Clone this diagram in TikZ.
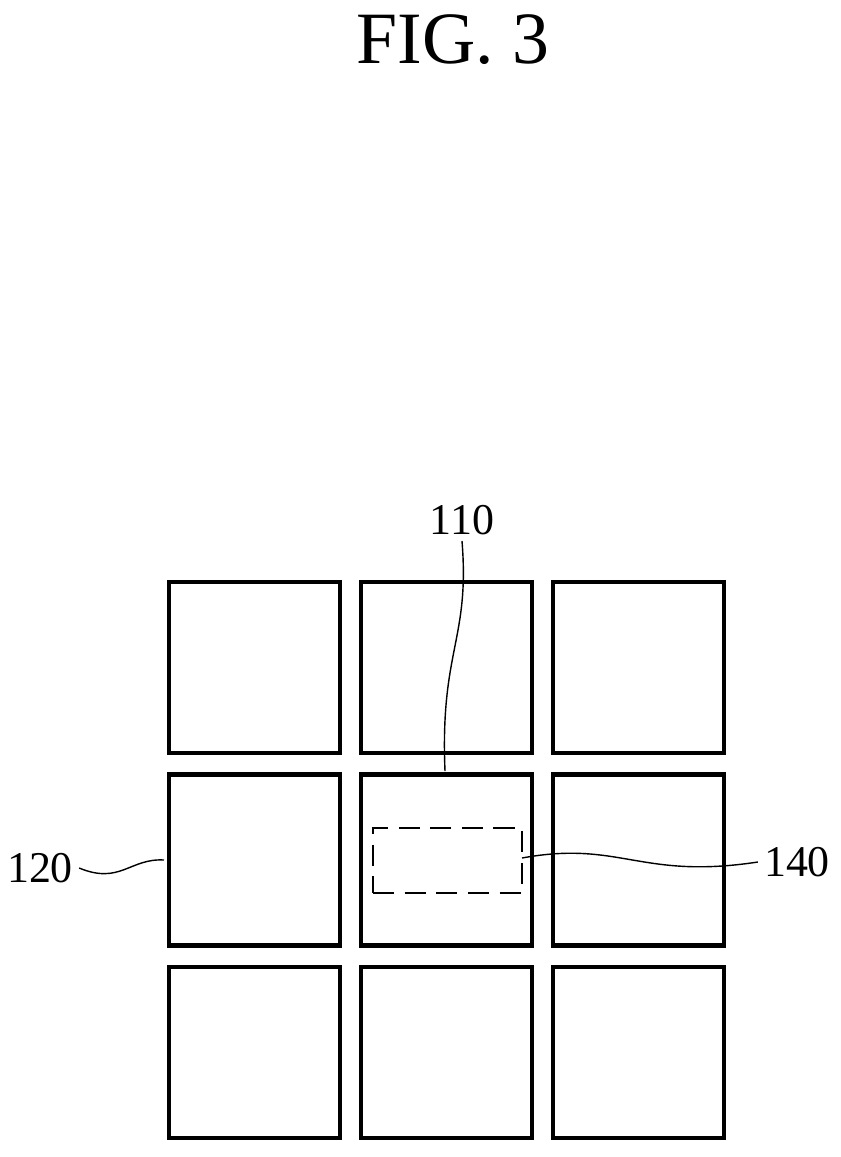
\documentclass[tikz,border=0pt]{standalone}
\usepackage{fontspec}
\setmainfont{Liberation Serif}
\begin{document}
\begin{tikzpicture}[x=0.02cm,y=-0.02cm]
                    \tikzset{cell/.style={draw, line width=2.6pt, minimum width=3.42cm, minimum height=3.42cm, inner sep=0pt},
                             lead/.style={line width=0.8pt},
                             refnum/.style={font=\fontsize{25}{29}\selectfont}}
                    \useasboundingbox (0,0) rectangle (840,1157);

                    \node (title) at (453,40) [font=\fontsize{42}{48}\selectfont] {FIG. 3};

                    \foreach \c/\x in {1/254.5,2/446.5,3/638.5}
                        \foreach \r/\y in {1/667.5,2/860,3/1052.5}
                            \node (sq\r\c) [cell] at (\x,\y) {};

                    \node (pad) at (447.5,860.5) [draw, dashed, dash pattern=on 12pt off 6pt, line width=1pt, minimum width=2.98cm, minimum height=1.3cm, inner sep=0pt] {};

                    \node (n110) [refnum] at (462,520) {110};
                    \node (n120) [refnum] at (40,868) {120};
                    \node (n140) [refnum] at (797,862) {140};

                    \coordinate (e110) at (445,771);
                    \coordinate (e120) at (164,860);
                    \coordinate (e140) at (522,858);

                    \draw [lead] (n110.south) .. controls (470,640) and (440,650) .. (e110);
                    \draw [lead] (n120.east) .. controls (120,885) and (130,858) .. (e120);
                    \draw [lead] (e140) .. controls (620,840) and (640,880) .. (n140.west);
                \end{tikzpicture}
\end{document}
